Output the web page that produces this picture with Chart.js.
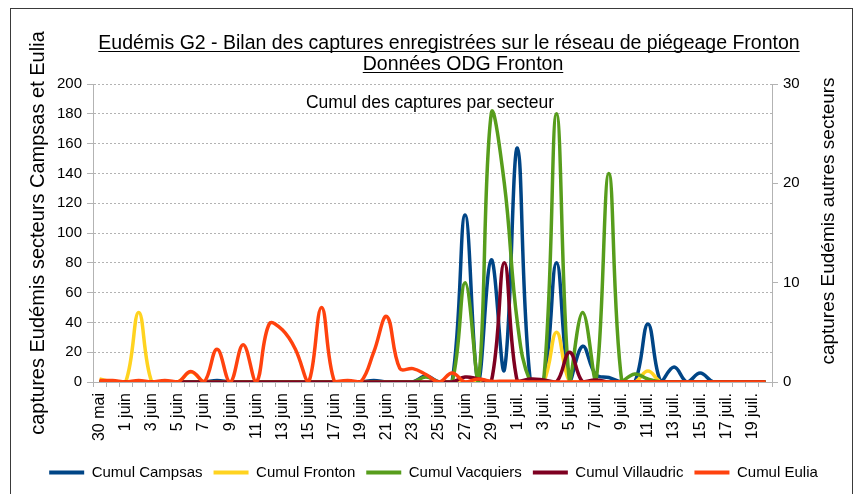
<!DOCTYPE html>
<html>
<head>
<meta charset="utf-8">
<script src="https://cdn.jsdelivr.net/npm/chart.js@4/dist/chart.umd.min.js"></script>
<style>
  html, body { margin: 0; padding: 0; background: #fff; }
  #wrap { width: 858px; height: 494px; position: relative; }
</style>
</head>
<body>
<div id="wrap"><canvas id="chart"></canvas></div>
<script>
/* =========================
   DONNÉES
========================= */
const jours = [
  "30 mai", "31 mai",
  "1 juin", "2 juin", "3 juin", "4 juin", "5 juin", "6 juin", "7 juin", "8 juin", "9 juin", "10 juin",
  "11 juin", "12 juin", "13 juin", "14 juin", "15 juin", "16 juin", "17 juin", "18 juin", "19 juin", "20 juin",
  "21 juin", "22 juin", "23 juin", "24 juin", "25 juin", "26 juin", "27 juin", "28 juin", "29 juin", "30 juin",
  "1 juil.", "2 juil.", "3 juil.", "4 juil.", "5 juil.", "6 juil.", "7 juil.", "8 juil.", "9 juil.", "10 juil.",
  "11 juil.", "12 juil.", "13 juil.", "14 juil.", "15 juil.", "16 juil.", "17 juil.", "18 juil.", "19 juil.", "20 juil."
];

// axe gauche (0-200)
const campsas = [
  0, 0, 0, 0, 0, 0, 0, 0, 0, 1, 0, 0, 0, 0, 0, 0, 0, 0, 0, 0, 0, 1, 0, 0, 0, 4,
  0, 0, 112, 0, 82, 8, 157, 0, 0, 80, 0, 24, 5, 3, 0, 0, 39, 0, 10, 0, 6, 0, 0, 0, 0, 0
];
const eulia = [
  1, 1, 0, 1, 0, 1, 0, 7, 0, 22, 0, 25, 0, 39, 35, 22, 0, 50, 0, 1, 0, 20, 44, 9, 9, 5,
  0, 6, 0, 2, 0.5, 0.5, 0.5, 0, 0, 0, 0, 0, 0, 0, 0, 0, 0, 0, 0, 0, 0, 0, 0, 0, 0, 0
];

// axe droit (0-30)
const fronton = [
  0.3, 0, 0, 7, 0, 0, 0, 1, 0, 0, 0, 0, 0, 0, 0, 0, 0, 0, 0, 0, 0, 0, 0, 0, 0, 0,
  0, 0, 0, 0, 0, 0, 0, 0, 0, 5, 0, 0, 0, 0, 0, 0, 1.1, 0, 0, 0, 0, 0, 0, 0, 0, 0
];
const vacquiers = [
  0, 0, 0, 0, 0, 0, 0, 0, 0, 0, 0, 0, 0, 0, 0, 0, 0, 0, 0, 0, 0, 0, 0, 0, 0, 0.5,
  0, 0, 10, 0, 27, 20, 6, 0, 0, 27, 0, 7, 0, 21, 0, 0.8, 0.3, 0, 0, 0, 0, 0, 0, 0, 0, 0
];
const villaudric = [
  0, 0, 0, 0, 0, 0, 0, 0, 0, 0, 0, 0, 0, 0, 0, 0, 0, 0, 0, 0, 0, 0, 0, 0, 0, 0,
  0, 0, 0.5, 0.3, 0, 12, 0, 0.3, 0.2, 0, 3, 0, 0.2, 0, 0, 0, 0, 0, 0, 0, 0, 0, 0, 0, 0, 0
];

const titre = [
  "Eudémis G2 - Bilan des captures enregistrées sur le réseau de piégeage Fronton",
  "Données ODG Fronton"
];
const sousTitre = "Cumul des captures par secteur";
const titreDroite = "captures Eudémis autres secteurs";

/* =========================
   STYLE
========================= */
const police = '"Liberation Sans", Arial, sans-serif';
const gris = "#b3b3b3";
Chart.defaults.font.family = police;
Chart.defaults.color = "#000";

function serie(label, data, couleur, axe, ordre) {
  return {
    label: label,
    data: data,
    borderColor: couleur,
    backgroundColor: couleur,
    borderWidth: 3.5,
    pointRadius: 0,
    tension: 0.4,
    fill: false,
    yAxisID: axe,
    order: ordre
  };
}

// titres soulignés, titre de l'axe droit + cadre
const decor = {
  id: "decor",
  beforeDraw(chart) {
    const ctx = chart.ctx;
    ctx.save();
    ctx.fillStyle = "#fff";
    ctx.fillRect(0, 0, chart.width, chart.height);
    ctx.restore();
  },
  afterDraw(chart) {
    const ctx = chart.ctx;
    ctx.save();
    ctx.strokeStyle = "#3a3a3a";
    ctx.lineWidth = 1;
    ctx.strokeRect(10.5, 8.5, 842, 500);

    ctx.fillStyle = "#000";
    ctx.font = "19.5px " + police;
    ctx.textAlign = "center";
    ctx.textBaseline = "alphabetic";
    const centres = [449, 463];
    titre.forEach((txt, i) => {
      const y = 49 + i * 21;
      ctx.fillText(txt, centres[i], y);
      const w = ctx.measureText(txt).width;
      ctx.fillRect(centres[i] - w / 2, y + 2, w, 1);
    });

    ctx.font = "17.5px " + police;
    ctx.textBaseline = "middle";
    ctx.fillText(sousTitre, 430, 103);

    ctx.translate(829, 221);
    ctx.rotate(-Math.PI / 2);
    ctx.font = "19px " + police;
    ctx.fillText(titreDroite, 0, 0);
    ctx.restore();
  }
};

/* =========================
   GRAPHIQUE
========================= */
new Chart(document.getElementById("chart"), {
  type: "line",
  data: {
    labels: jours,
    datasets: [
      serie("Cumul Campsas", campsas, "#004586", "y", 5),
      serie("Cumul Fronton", fronton, "#ffd320", "y2", 4),
      serie("Cumul Vacquiers", vacquiers, "#579d1c", "y2", 3),
      serie("Cumul Villaudric", villaudric, "#7e0021", "y2", 2),
      serie("Cumul Eulia", eulia, "#ff420e", "y", 1)
    ]
  },
  options: {
    responsive: true,
    maintainAspectRatio: false,
    animation: false,
    layout: { padding: { top: 84, left: 22, right: 13, bottom: 4 } },
    plugins: {
      legend: {
        position: "bottom",
        labels: {
          boxWidth: 35,
          boxHeight: 4,
          padding: 11,
          font: { size: 15 },
          sort: (a, b) => a.datasetIndex - b.datasetIndex,
          generateLabels(chart) {
            const items = Chart.defaults.plugins.legend.labels.generateLabels(chart);
            items.forEach(it => { it.lineWidth = 0; it.fillStyle = it.strokeStyle; });
            return items;
          }
        }
      },
      tooltip: { enabled: false }
    },
    scales: {
      x: {
        offset: true,
        grid: { offset: true, drawOnChartArea: false, color: gris, tickLength: 5 },
        border: { color: gris },
        ticks: {
          autoSkip: false,
          minRotation: 90,
          maxRotation: 90,
          padding: 6,
          font: { size: 16 },
          callback: function (value, index) {
            return index % 2 === 0 ? this.getLabelForValue(value) : "";
          }
        },
        afterFit(scale) { scale.height = 72; }
      },
      y: {
        position: "left",
        min: 0,
        max: 200,
        ticks: { stepSize: 20, padding: 5, font: { size: 15 } },
        grid: { color: gris, tickLength: 6 },
        border: { color: gris, dash: [2, 2] },
        title: {
          display: true,
          text: "captures Eudémis secteurs Campsas et Eulia",
          font: { size: 20 },
          padding: { top: 4, bottom: 4 }
        },
        afterFit(scale) { scale.width = 71; }
      },
      y2: {
        position: "right",
        min: 0,
        max: 30,
        ticks: { stepSize: 10, padding: 5, font: { size: 15 } },
        grid: { drawOnChartArea: false, color: gris, tickLength: 6 },
        border: { color: gris },
        afterFit(scale) { scale.width = 73; }
      }
    }
  },
  plugins: [decor]
});
</script>
</body>
</html>
